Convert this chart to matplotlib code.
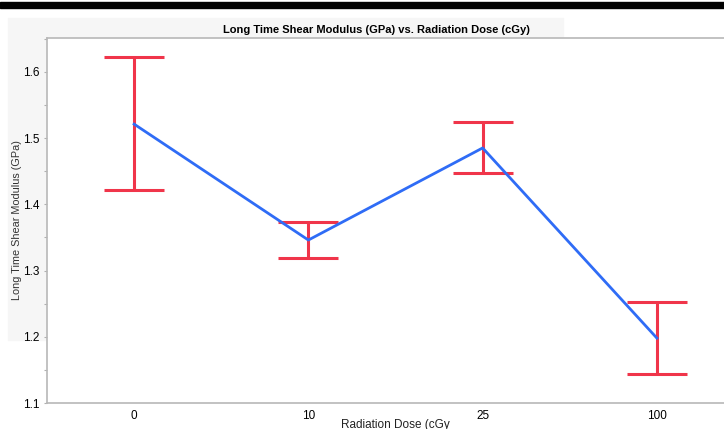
import matplotlib
matplotlib.use("Agg")
import matplotlib.pyplot as plt
from matplotlib.patches import Rectangle
from matplotlib.ticker import MultipleLocator

plt.rcParams.update({
    "font.family": "sans-serif", "font.sans-serif": ["Liberation Sans", "DejaVu Sans"],
    "font.size": 8,
})

doses = ["0", "10", "25", "100"]
modulus = [1.521, 1.346, 1.485, 1.198]
err_hi = [1.623, 1.373, 1.524, 1.252]
err_lo = [1.421, 1.319, 1.447, 1.144]
yticks = [1.1, 1.2, 1.3, 1.4, 1.5, 1.6]

W, H = 724, 429
fig = plt.figure(figsize=(W / 100, H / 100), dpi=100)

# light gray panel behind the plot and black bar on top
fig.patches.append(Rectangle((8 / W, 1 - 340 / H), (563 - 8) / W, (340 - 18) / H,
                             transform=fig.transFigure, color="#f6f6f6", zorder=-2))
fig.patches.append(Rectangle((0, 1 - 7.5 / H), 1, 5 / H,
                             transform=fig.transFigure, color="black", zorder=-2))

ax = fig.add_axes([47 / W, 26 / H, 697 / W, 365 / H])
ax.set_zorder(1)
ax.set_facecolor("white")

x = list(range(len(doses)))
lo = [m - l for m, l in zip(modulus, err_lo)]
hi = [h - m for m, h in zip(modulus, err_hi)]
ax.errorbar(x, modulus, yerr=[lo, hi], fmt="none", ecolor="#f0354a",
            elinewidth=2.2, capsize=21.5, capthick=2.2, zorder=2)
ax.plot(x, modulus, color="#2f6cf6", linewidth=2, zorder=3)

ax.set_xlim(-0.5, 3.5)
ax.set_ylim(1.1, 1.651)
ax.set_xticks(x)
ax.set_xticklabels(doses, fontsize=8.5)
ax.set_yticks(yticks)
ax.set_yticklabels([f"{v:.1f}" for v in yticks], fontsize=8.5)
ax.yaxis.set_minor_locator(MultipleLocator(0.05))
ax.tick_params(axis="y", which="both", length=2.5, width=0.8, color="#b0b0b0", pad=3)
ax.tick_params(axis="x", length=0, pad=5)
for s in ax.spines.values():
    s.set_color("#b8b8b8")
    s.set_linewidth(1.2)

fig.text(376 / W, 1 - 30 / H, "Long Time Shear Modulus (GPa) vs. Radiation Dose (cGy)",
         ha="center", va="center", fontsize=8, fontweight="bold")
fig.text(17 / W, 1 - 220 / H, "Long Time Shear Modulus (GPa)", rotation=90,
         ha="center", va="center", fontsize=7.8, color="#333333")
fig.text(395 / W, 1 - 419 / H, "Radiation Dose (cGy", ha="center", va="top",
         fontsize=8.5, color="#222222")

fig.savefig("out.png", dpi=100)
